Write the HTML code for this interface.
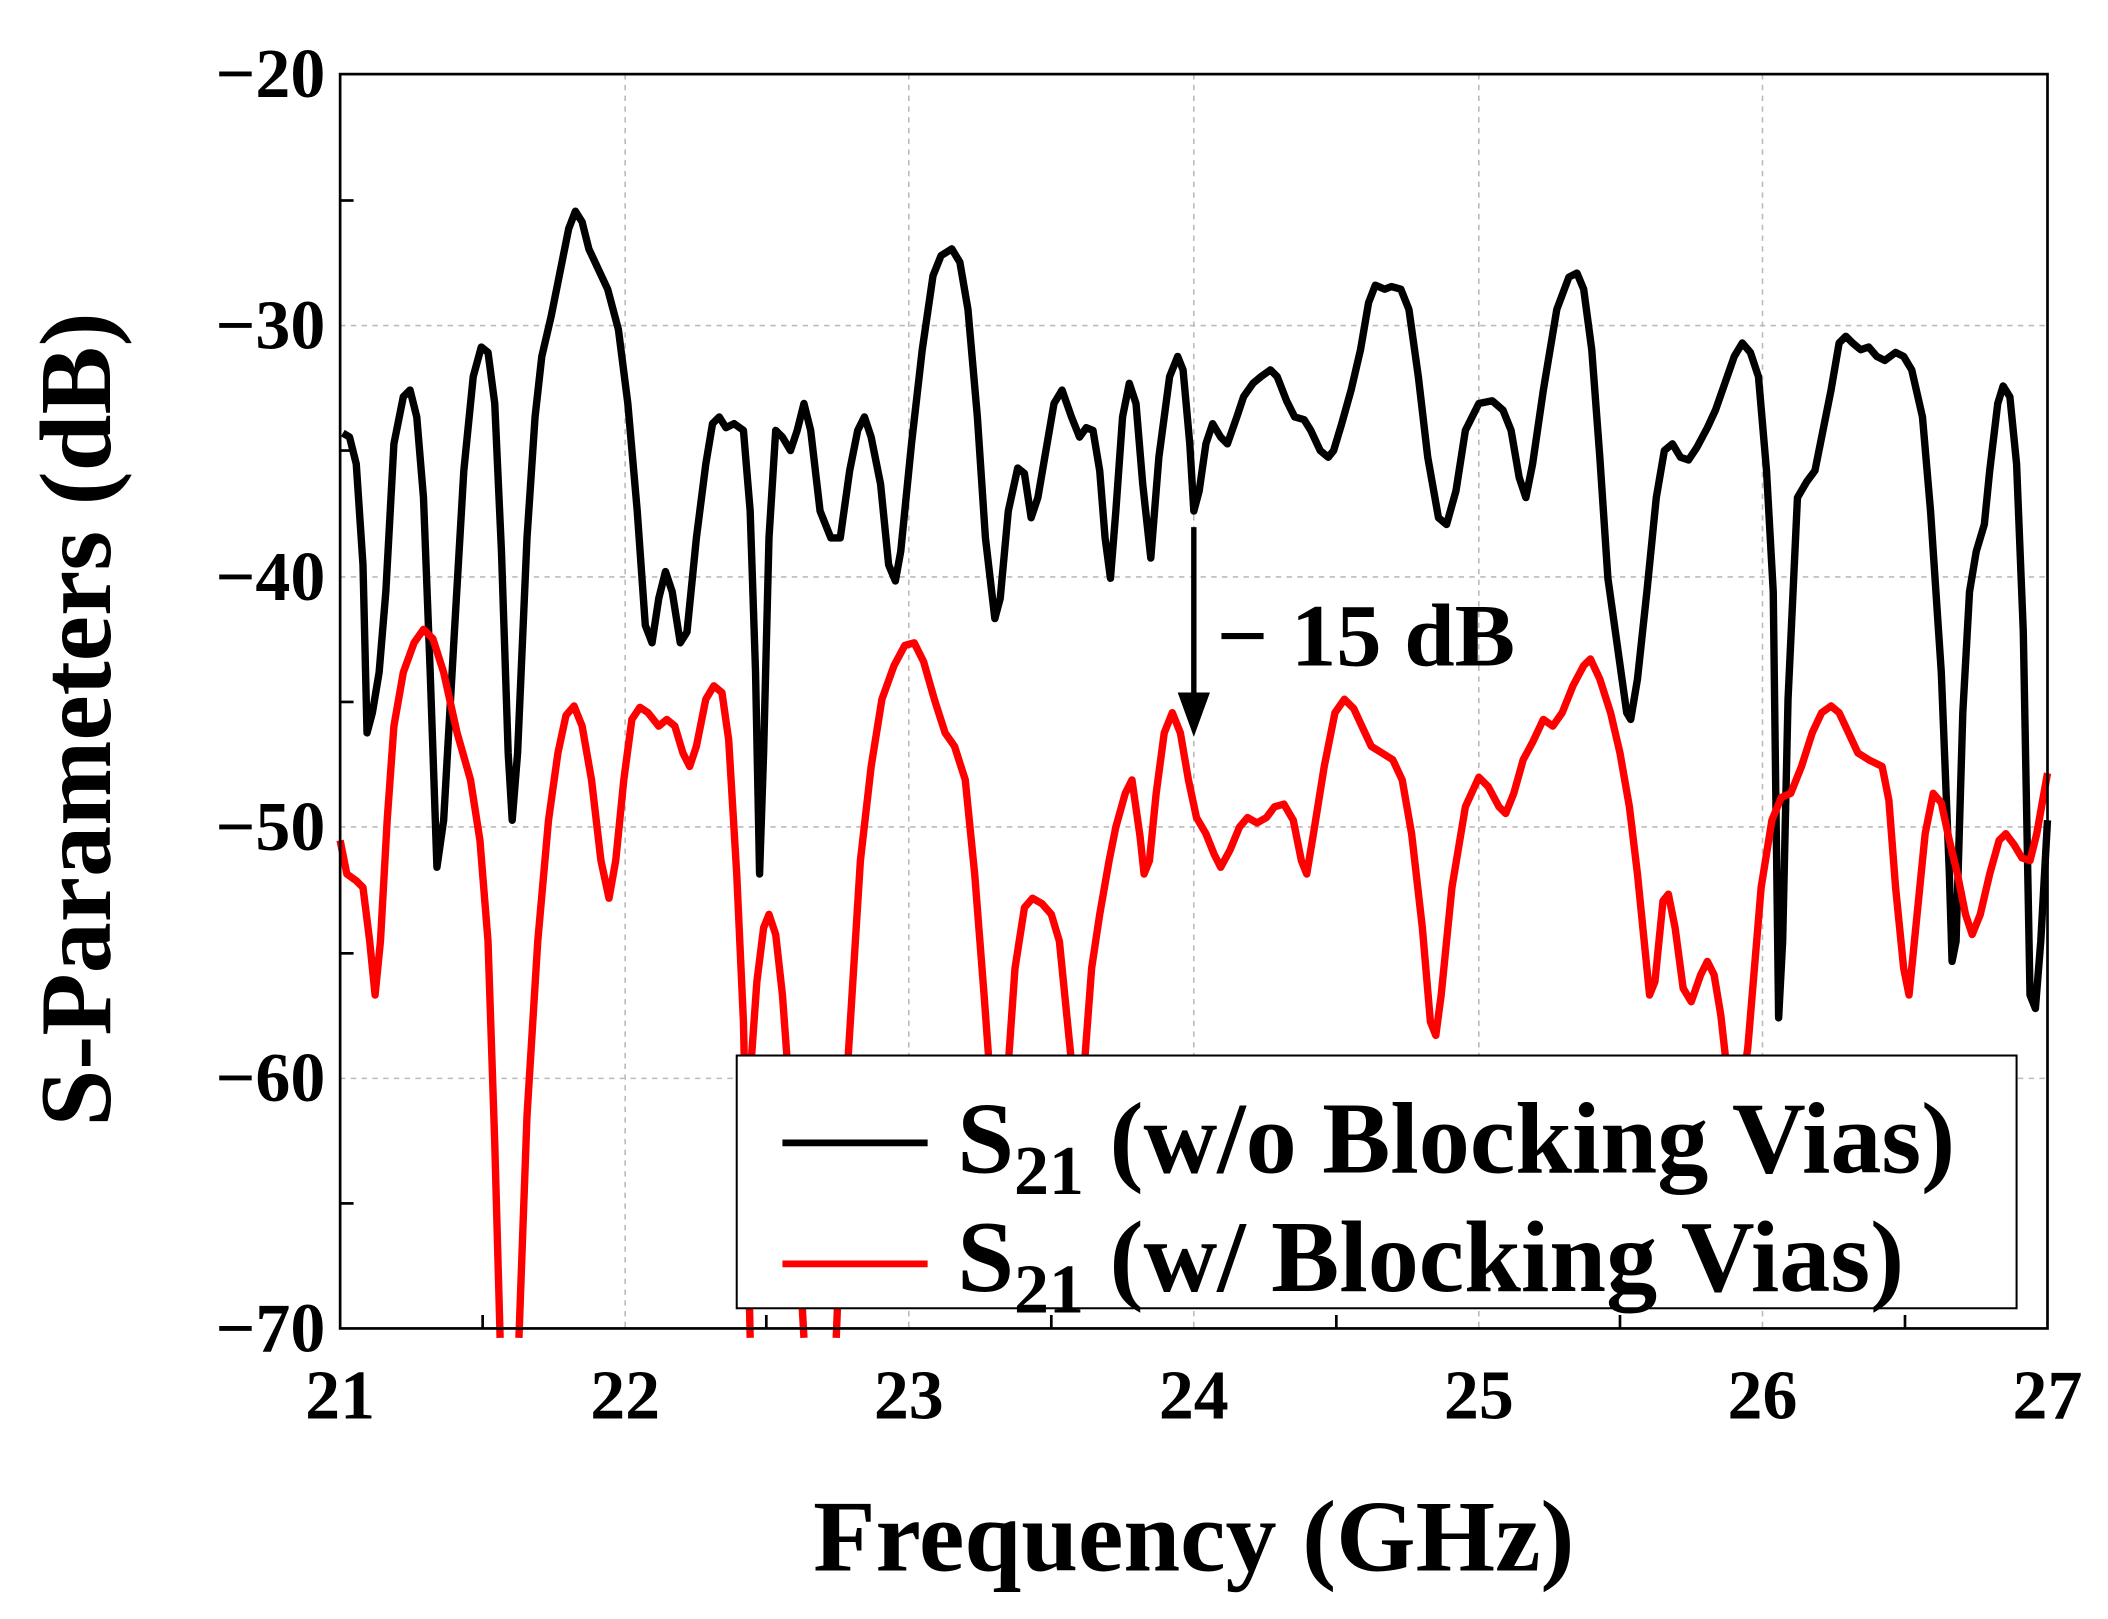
<!DOCTYPE html>
<html><head><style>html,body{margin:0;padding:0;background:#fff;}svg{display:block;}</style></head>
<body>
<svg width="2108" height="1619" viewBox="0 0 1568 1204" xmlns="http://www.w3.org/2000/svg" font-family="Liberation Serif, serif" font-weight="bold">
<rect width="1568" height="1204" fill="#fff"/>
<g stroke="#bbb" stroke-width="1.2" stroke-dasharray="4,4">
<line x1="465" y1="55" x2="465" y2="988"/><line x1="676" y1="55" x2="676" y2="988"/><line x1="888" y1="55" x2="888" y2="988"/><line x1="1100" y1="55" x2="1100" y2="988"/><line x1="1311" y1="55" x2="1311" y2="988"/>
<line x1="253" y1="242" x2="1523" y2="242"/><line x1="253" y1="429" x2="1523" y2="429"/><line x1="253" y1="615" x2="1523" y2="615"/><line x1="253" y1="802" x2="1523" y2="802"/>
</g>
<g fill="none" stroke-linejoin="round" stroke-width="5.5">
<polyline stroke="#000" points="255,322 260,325 265,345 270,420 273,545 277,530 282,500 287,440 293,330 300,295 305,290 310,310 315,370 320,500 325,645 330,610 338,470 345,350 352,280 358,258 363,262 368,300 373,410 378,560 381,610 385,560 392,400 398,310 403,265 410,235 417,200 423,170 428,157 433,165 438,185 445,200 452,215 460,245 467,300 474,380 480,465 485,478 490,445 495,425 500,440 506,478 511,470 518,400 525,345 530,315 535,310 540,318 546,315 553,320 558,380 562,500 565,650 568,560 572,400 577,320 582,325 588,335 593,320 598,300 603,320 610,380 618,400 625,400 632,350 638,320 643,310 648,325 655,360 661,420 666,432 670,410 678,330 686,260 694,205 700,190 708,185 714,195 720,230 727,310 733,400 740,460 744,445 750,380 757,348 762,352 767,385 772,370 778,335 784,300 790,290 797,310 803,325 808,318 813,320 818,350 822,400 826,430 830,380 835,310 840,285 845,300 850,360 856,415 862,340 870,280 876,265 880,275 885,330 888,380 892,365 897,330 902,315 908,325 913,330 920,310 925,295 932,285 938,280 945,275 950,280 957,298 963,310 970,312 975,320 982,335 988,340 992,335 998,315 1005,290 1012,260 1018,225 1023,212 1030,215 1035,213 1042,215 1048,230 1055,280 1062,340 1070,385 1076,390 1083,365 1090,320 1100,300 1110,298 1118,305 1124,320 1130,355 1135,370 1140,345 1148,290 1158,230 1167,206 1173,203 1178,215 1184,260 1190,340 1196,430 1203,480 1210,530 1213,535 1218,505 1225,440 1232,370 1238,335 1244,330 1250,340 1256,342 1262,333 1270,318 1276,305 1283,285 1290,265 1296,255 1302,262 1308,280 1314,350 1319,440 1323,757 1326,700 1330,520 1337,370 1344,358 1350,350 1356,320 1362,290 1368,255 1373,250 1378,255 1384,260 1390,258 1396,265 1402,268 1410,262 1416,265 1422,275 1430,310 1436,380 1444,500 1450,650 1452,715 1455,700 1460,530 1465,440 1470,410 1476,390 1480,350 1486,300 1490,287 1495,295 1500,345 1505,470 1510,740 1514,750 1518,700 1523,610"/>
<polyline stroke="#f00" points="253,625 258,650 265,655 270,660 275,700 279,740 283,700 288,610 293,540 300,500 308,478 315,468 322,475 330,500 340,545 350,580 357,625 363,700 368,850 372,995"/>
<polyline stroke="#f00" points="386,995 392,830 400,700 408,610 415,560 421,532 427,525 433,540 440,580 447,640 453,668 458,640 464,580 470,535 476,526 482,530 490,540 496,535 502,540 508,560 513,570 518,555 525,520 531,510 537,515 542,550 548,650 553,760 556,900 558,995"/>
<polyline stroke="#f00" points="558,800 563,730 568,690 572,680 577,695 582,740 590,850 598,995"/>
<polyline stroke="#f00" points="622,995 630,800 640,640 648,570 656,520 665,495 673,480 680,478 687,492 695,520 703,545 710,555 718,580 725,650 732,740 740,850"/>
<polyline stroke="#f00" points="748,820 755,720 762,675 768,668 775,672 782,680 788,700 795,770 800,820"/>
<polyline stroke="#f00" points="806,800 812,720 818,680 825,640 830,615 837,590 842,580 848,622 851,650 855,640 860,590 866,545 872,530 878,545 884,580 890,608 897,620 903,635 908,645 915,632 922,615 928,608 935,612 942,608 948,600 955,598 962,610 968,640 972,650 977,620 985,570 993,530 1000,520 1007,527 1013,540 1020,555 1028,560 1036,565 1043,580 1050,620 1058,690 1064,760 1068,770 1072,740 1080,660 1090,600 1100,578 1107,585 1115,600 1120,605 1126,590 1133,565 1140,552 1148,535 1155,540 1162,530 1170,510 1178,495 1183,490 1190,505 1198,530 1205,560 1212,600 1218,650 1223,700 1227,740 1231,730 1237,670 1241,665 1246,690 1252,735 1258,745 1265,725 1270,715 1275,725 1280,755 1285,800 1292,830 1300,780 1310,660 1318,610 1325,593 1332,590 1340,570 1348,545 1355,530 1362,525 1368,530 1375,545 1382,560 1390,565 1400,570 1405,595 1410,660 1416,720 1420,740 1425,690 1432,620 1438,590 1444,597 1450,625 1456,650 1462,680 1467,695 1473,680 1480,650 1487,625 1492,620 1498,628 1504,638 1510,640 1515,620 1523,575"/>
</g>
<line x1="888" y1="392" x2="888" y2="520" stroke="#000" stroke-width="4"/>
<polygon points="876,515 900,515 888,548" fill="#000"/>
<text x="905" y="495" font-size="66" textLength="222" lengthAdjust="spacingAndGlyphs">− 15 dB</text>
<rect x="548" y="785" width="952" height="188" fill="#fff" stroke="#000" stroke-width="1.5"/>
<line x1="582" y1="850" x2="690" y2="850" stroke="#000" stroke-width="5"/>
<line x1="582" y1="940" x2="690" y2="940" stroke="#f00" stroke-width="5"/>
<text x="712" y="872" font-size="76">S<tspan font-size="52" dy="16">21</tspan><tspan dy="-16"> (w/o Blocking Vias)</tspan></text>
<text x="712" y="960" font-size="76">S<tspan font-size="52" dy="16">21</tspan><tspan dy="-16"> (w/ Blocking Vias)</tspan></text>
<rect x="253" y="55" width="1270" height="933" fill="none" stroke="#000" stroke-width="2"/>
<g stroke="#000" stroke-width="2">
<line x1="253" y1="149" x2="263" y2="149"/><line x1="253" y1="335" x2="263" y2="335"/><line x1="253" y1="522" x2="263" y2="522"/><line x1="253" y1="709" x2="263" y2="709"/><line x1="253" y1="895" x2="263" y2="895"/>
<line x1="359" y1="988" x2="359" y2="978"/><line x1="570" y1="988" x2="570" y2="978"/><line x1="782" y1="988" x2="782" y2="978"/><line x1="994" y1="988" x2="994" y2="978"/><line x1="1205" y1="988" x2="1205" y2="978"/><line x1="1417" y1="988" x2="1417" y2="978"/>
</g>
<g font-size="52" text-anchor="end">
<text x="242" y="72">−20</text><text x="242" y="259">−30</text><text x="242" y="446">−40</text><text x="242" y="632">−50</text><text x="242" y="819">−60</text><text x="242" y="1005">−70</text>
</g>
<g font-size="52" text-anchor="middle">
<text x="253" y="1055">21</text><text x="465" y="1055">22</text><text x="676" y="1055">23</text><text x="888" y="1055">24</text><text x="1100" y="1055">25</text><text x="1311" y="1055">26</text><text x="1523" y="1055">27</text>
</g>
<text x="888" y="1168" font-size="76" text-anchor="middle">Frequency (GHz)</text>
<text transform="translate(82,535) rotate(-90)" font-size="76" text-anchor="middle">S-Parameters (dB)</text>
</svg>
</body></html>
